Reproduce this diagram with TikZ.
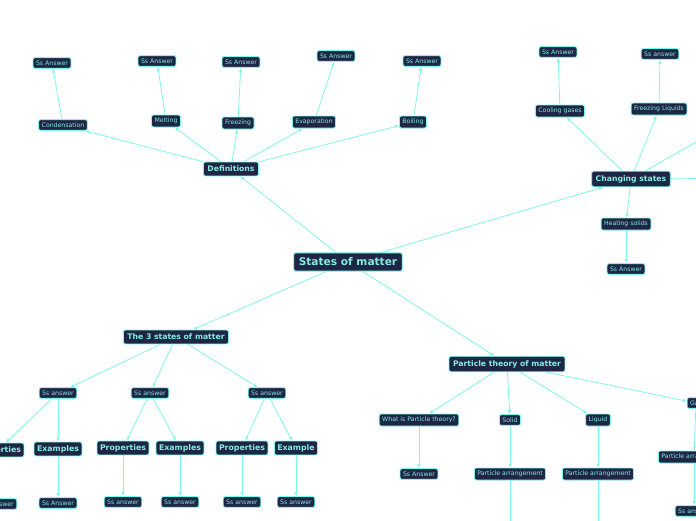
\documentclass[tikz,border=0pt]{standalone}
\usepackage{fontspec}
\setsansfont{DejaVu Sans}
\usetikzlibrary{arrows.meta}
\definecolor{somNavy}{HTML}{1E2645}
\definecolor{somCyan}{HTML}{7FF7E8}
\definecolor{somText}{HTML}{86EBDF}
\tikzset{
  som box/.style={draw=somCyan, fill=somNavy, text=somText, rounded corners=2pt, line width=0.9pt, font=\sffamily},
  som root/.style={som box, font=\sffamily\bfseries\fontsize{10.6}{12}\selectfont, inner xsep=5pt, inner ysep=5pt},
  som branch/.style={som box, font=\sffamily\bfseries\fontsize{7.7}{9}\selectfont, inner xsep=4pt, inner ysep=4pt},
  som topic/.style={som box, font=\sffamily\bfseries\fontsize{7.8}{9}\selectfont, inner xsep=3pt, inner ysep=3.2pt},
  som leaf/.style={som box, font=\sffamily\fontsize{6.2}{7}\selectfont, inner xsep=3pt, inner ysep=3pt},
  som link/.style={draw=somCyan, line width=0.8pt, -{Latex[length=4pt,width=3.5pt]}},
}

\begin{document}
\begin{tikzpicture}[x=1pt,y=-1pt]
  \useasboundingbox (0,0) rectangle (696,520);
  \clip (0,0) rectangle (696,520);

  % centre
  \node[som root] (root) at (348,262) {States of matter};

  % definitions
  \node[som branch] (defs) at (231,169) {Definitions};
  \node[som leaf] (cond) at (63,125) {Condensation};
  \node[som leaf] (melt) at (166,121) {Melting};
  \node[som leaf] (frz) at (238,123) {Freezing};
  \node[som leaf] (evap) at (314,122) {Evaporation};
  \node[som leaf] (boil) at (413,122) {Boiling};
  \node[som leaf] (condA) at (52,63) {Ss Answer};
  \node[som leaf] (meltA) at (157,61) {Ss Answer};
  \node[som leaf] (frzA) at (241,62) {Ss Answer};
  \node[som leaf] (evapA) at (336,56) {Ss Answer};
  \node[som leaf] (boilA) at (422,61) {Ss Answer};

  % changing states
  \node[som branch] (chg) at (631,179) {Changing states};
  \node[som leaf] (cool) at (560,111) {Cooling gases};
  \node[som leaf] (frzliq) at (659,109) {Freezing Liquids};
  \node[som leaf] (heat) at (626,224) {Heating solids};
  \node[som leaf] (coolA) at (558,52) {Ss Answer};
  \node[som leaf] (frzliqA) at (660,54) {Ss answer};
  \node[som leaf] (heatA) at (626,269) {Ss Answer};
  \coordinate (chgX) at (770,100);
  \coordinate (chgY) at (790,178);

  % three states
  \node[som branch] (three) at (176,337) {The 3 states of matter};
  \foreach \n/\x in {sa/58,sb/150,sc/267} {
    \node[som leaf] (\n) at (\x,393) {Ss answer};
  }
  \node[som topic] (propA) at (-2,450) {Properties};
  \node[som topic] (exA) at (58,449) {Examples};
  \node[som topic] (propB) at (123,448) {Properties};
  \node[som topic] (exB) at (180,448) {Examples};
  \node[som topic] (propC) at (242,448) {Properties};
  \node[som topic] (exC) at (296,448) {Example};
  \node[som leaf] (propAA) at (-2,504) {Ss answer};
  \node[som leaf] (exAA) at (58,503) {Ss Answer};
  \foreach \n/\x in {propBA/123,exBA/180,propCA/242,exCA/296} {
    \node[som leaf] (\n) at (\x,502) {Ss answer};
  }

  % particle theory
  \node[som branch] (part) at (507,364) {Particle theory of matter};
  \node[som leaf] (what) at (419,420) {What is Particle theory?};
  \node[som leaf] (solid) at (510,420) {Solid};
  \node[som leaf] (liq) at (598,420) {Liquid};
  \node[som leaf] (gas) at (696,403) {Gas};
  \node[som leaf] (whatA) at (419,474) {Ss Answer};
  \node[som leaf] (solidA) at (510,474) {Particle arrangement};
  \node[som leaf] (liqA) at (598,474) {Particle arrangement};
  \node[som leaf] (gasA) at (694,457) {Particle arrangement};
  \node[som leaf] (gasAA) at (694,511) {Ss answer};
  \coordinate (solidB) at (510,545);
  \coordinate (liqB) at (598,545);

  \foreach \a/\b in {root/defs,root/chg,root/three,root/part,
      defs/cond,defs/melt,defs/frz,defs/evap,defs/boil,
      cond/condA,melt/meltA,frz/frzA,evap/evapA,boil/boilA,
      chg/cool,chg/frzliq,chg/heat,chg/chgX,chg/chgY,
      cool/coolA,frzliq/frzliqA,heat/heatA,
      three/sa,three/sb,three/sc,sa/propA,sa/exA,sb/propB,sb/exB,sc/propC,sc/exC,
      propA/propAA,exA/exAA,propB/propBA,exB/exBA,propC/propCA,exC/exCA,
      part/what,part/solid,part/liq,part/gas,
      what/whatA,solid/solidA,liq/liqA,gas/gasA,gasA/gasAA,
      solidA/solidB,liqA/liqB} {
    \draw[som link] (\a) -- (\b);
  }
\end{tikzpicture}
\end{document}
